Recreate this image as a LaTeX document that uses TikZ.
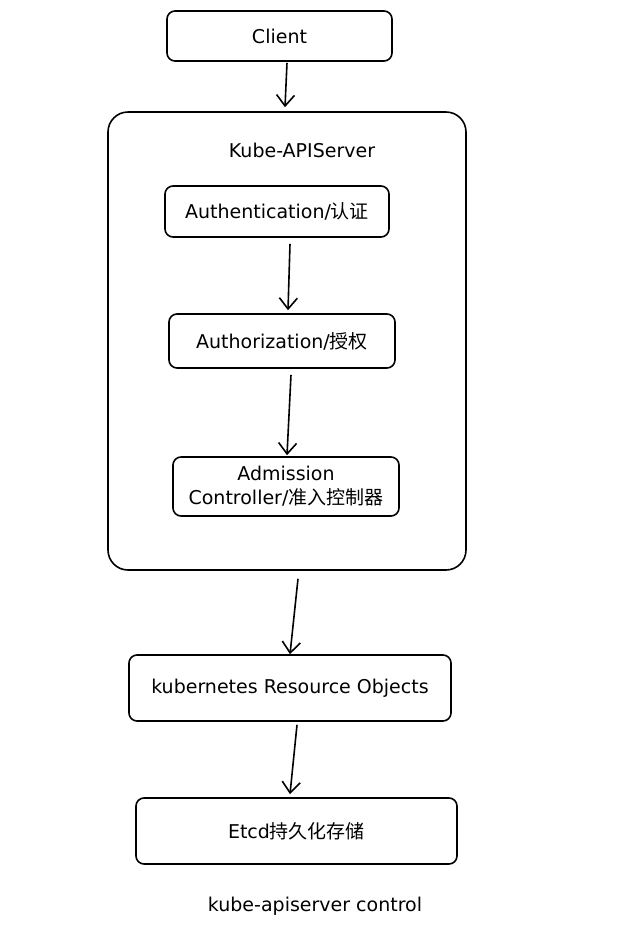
\documentclass[tikz,border=0pt]{standalone}
\usepackage{fontspec}
\setmainfont{DejaVu Sans}
\newfontfamily\cjk{Noto Sans CJK SC}
\usetikzlibrary{arrows.meta}

\begin{document}
\begin{tikzpicture}[x=1pt,y=-1pt,
  box/.style={draw,line width=1.6pt,rounded corners=8pt,align=center,inner sep=0pt,font=\fontsize{19}{24}\selectfont},
  label/.style={font=\fontsize{19}{24}\selectfont},
  flow/.style={line width=1.6pt,-{Straight Barb[length=11pt,width=18pt,line width=1.6pt]}}]
\useasboundingbox (0,0) rectangle (639,946);
%% client
\node[box,minimum width=225pt,minimum height=50pt] (client) at (279.5,36) {Client};
%% kube-apiserver
\node[box,rounded corners=20pt,minimum width=358pt,minimum height=458pt] (api) at (287,341) {};
\node[label] (apititle) at (302,150) {Kube-APIServer};
\node[box,minimum width=224pt,minimum height=51pt] (authn) at (277,211.5) {Authentication/{\cjk 认证}};
\node[box,minimum width=226pt,minimum height=54pt] (authz) at (282,341) {Authorization/{\cjk 授权}};
\node[box,minimum width=226pt,minimum height=59pt] (admit) at (286,486.5) {Admission\\Controller/{\cjk 准入控制器}};
%% objects, etcd
\node[box,minimum width=322pt,minimum height=66pt] (objs) at (290,688) {kubernetes Resource Objects};
\node[box,minimum width=321pt,minimum height=66pt] (etcd) at (296.5,831) {Etcd{\cjk 持久化存储}};
\node[label] (caption) at (315,906) {kube-apiserver control};
%% arrows
\draw[flow] ([xshift=7.5pt,yshift=-1pt]client.south) -- ([xshift=-2pt,yshift=4pt]api.north);
\draw[flow] ([xshift=13pt,yshift=-6pt]authn.south) -- ([xshift=6pt,yshift=3pt]authz.north);
\draw[flow] ([xshift=9pt,yshift=-6pt]authz.south) -- ([xshift=1pt,yshift=1pt]admit.north);
\draw[flow] ([xshift=11pt,yshift=-8pt]api.south) -- (objs.north);
\draw[flow] ([xshift=7pt,yshift=-3pt]objs.south) -- ([xshift=-6.5pt,yshift=3pt]etcd.north);
\end{tikzpicture}
\end{document}
